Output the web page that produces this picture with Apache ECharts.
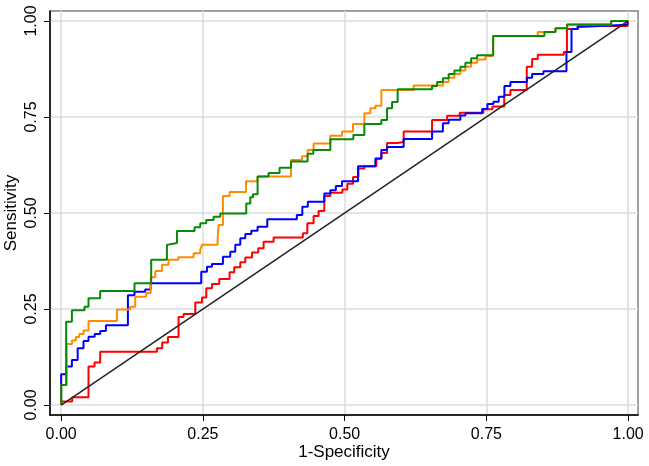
<!DOCTYPE html>
<html>
<head>
<meta charset="utf-8">
<script src="https://cdn.jsdelivr.net/npm/echarts@6/dist/echarts.min.js"></script>
<style>
html,body{margin:0;padding:0;background:#fff;}
#chart{width:649px;height:466px;}
</style>
</head>
<body>
<div id="chart"></div>
<script>
// Tick values (both axes)
const xTicks = [0, 0.25, 0.5, 0.75, 1];
const yTicks = [0, 0.25, 0.5, 0.75, 1];
const xTitle = '1-Specificity';
const yTitle = 'Sensitivity';

// ROC curves: [1-specificity, sensitivity] at each step
const greenCurve = [
  [0,0],[0,0.052],[0.0088,0.217],[0.0189,0.247],[0.0411,0.256],[0.0482,0.278],[0.0688,0.297],
  [0.1293,0.317],[0.1588,0.378],[0.1865,0.417],[0.1893,0.422],[0.2042,0.453],[0.2352,0.463],
  [0.2453,0.473],[0.2559,0.482],[0.2688,0.490],[0.2806,0.499],[0.3264,0.525],[0.3335,0.541],
  [0.3383,0.549],[0.3464,0.595],[0.3658,0.604],[0.3852,0.618],[0.4053,0.634],[0.4346,0.654],
  [0.4447,0.664],[0.4747,0.692],[0.5153,0.703],[0.5347,0.732],[0.5647,0.742],[0.5747,0.773],
  [0.5836,0.789],[0.5934,0.822],[0.6541,0.831],[0.6630,0.841],[0.6732,0.851],[0.6834,0.862],
  [0.6935,0.871],[0.7041,0.881],[0.7129,0.891],[0.7230,0.903],[0.7335,0.911],[0.7618,0.961],
  [0.8523,0.971],[0.8717,0.981],[0.8924,0.991],[0.9700,1.0],[1,1]
];
const orangeCurve = [
  [0,0],[0,0.052],[0.0097,0.159],[0.0189,0.168],[0.0259,0.177],[0.0318,0.185],[0.0394,0.194],
  [0.0482,0.219],[0.0983,0.249],[0.1218,0.256],[0.1306,0.282],[0.1500,0.292],[0.1579,0.333],
  [0.1659,0.349],[0.1777,0.365],[0.1893,0.378],[0.2065,0.385],[0.2335,0.395],[0.2453,0.404],
  [0.2483,0.417],[0.2758,0.427],[0.2776,0.469],[0.2853,0.544],[0.2970,0.555],[0.3259,0.583],
  [0.3464,0.595],[0.4053,0.638],[0.4247,0.648],[0.4346,0.664],[0.4452,0.681],[0.4747,0.701],
  [0.4953,0.712],[0.5147,0.732],[0.5347,0.760],[0.5453,0.773],[0.5541,0.779],[0.5647,0.820],
  [0.6217,0.832],[0.6735,0.841],[0.6834,0.852],[0.6935,0.862],[0.7041,0.871],[0.7129,0.881],
  [0.7230,0.891],[0.7335,0.900],[0.7482,0.909],[0.7618,0.961],[0.8405,0.971],[0.8717,0.981],
  [0.8924,0.991],[0.9700,1.0],[1,1]
];
const blueCurve = [
  [0,0],[0,0.080],[0.0088,0.100],[0.0189,0.117],[0.0291,0.148],[0.0394,0.167],[0.0482,0.178],
  [0.0591,0.185],[0.0688,0.193],[0.0789,0.208],[0.1177,0.286],[0.1293,0.295],[0.1482,0.301],
  [0.1579,0.317],[0.2470,0.347],[0.2571,0.360],[0.2659,0.367],[0.2853,0.386],[0.2982,0.399],
  [0.3070,0.417],[0.3159,0.434],[0.3247,0.445],[0.3353,0.454],[0.3464,0.464],[0.3635,0.484],
  [0.4156,0.495],[0.4253,0.516],[0.4350,0.529],[0.4641,0.551],[0.4747,0.559],[0.4844,0.570],
  [0.4953,0.583],[0.5236,0.622],[0.5541,0.642],[0.5647,0.664],[0.5747,0.672],[0.6040,0.693],
  [0.6541,0.712],[0.6732,0.734],[0.6834,0.743],[0.7041,0.754],[0.7129,0.760],[0.7424,0.771],
  [0.7517,0.784],[0.7623,0.790],[0.7717,0.803],[0.7817,0.831],[0.7923,0.841],[0.8214,0.852],
  [0.8306,0.862],[0.8505,0.869],[0.8911,0.919],[0.9000,0.979],[0.9114,0.985],[0.9202,0.990],
  [0.9988,1.0],[1,1]
];
const redCurve = [
  [0,0],[0,0.009],[0.0194,0.020],[0.0482,0.100],[0.0588,0.111],[0.0688,0.139],[0.1689,0.148],
  [0.1782,0.163],[0.1883,0.177],[0.2070,0.229],[0.2158,0.237],[0.2365,0.267],[0.2483,0.280],
  [0.2559,0.304],[0.2659,0.315],[0.2788,0.328],[0.2970,0.346],[0.3053,0.359],[0.3159,0.372],
  [0.3247,0.384],[0.3365,0.397],[0.3476,0.408],[0.3570,0.425],[0.3746,0.436],[0.4262,0.447],
  [0.4341,0.473],[0.4452,0.492],[0.4540,0.505],[0.4641,0.544],[0.4747,0.553],[0.4959,0.561],
  [0.5047,0.576],[0.5147,0.594],[0.5241,0.616],[0.5347,0.622],[0.5559,0.641],[0.5647,0.656],
  [0.5747,0.682],[0.5929,0.685],[0.6040,0.712],[0.6541,0.742],[0.6806,0.753],[0.7028,0.761],
  [0.7447,0.770],[0.7606,0.777],[0.7814,0.807],[0.7923,0.820],[0.8211,0.881],[0.8306,0.901],
  [0.8405,0.912],[0.8864,0.919],[0.8920,0.979],[0.9105,0.987],[0.9988,1.0],[1,1]
];
const referenceLine = [[0,0],[1,1]];

const chart = echarts.init(document.getElementById('chart'), null, {renderer:'canvas'});
const font = 'Liberation Sans, Arial, sans-serif';
function fmt(v){ return Number(v).toFixed(2); }

function curve(name, data, color){
  return {
    name, type:'line', step:'end', data, showSymbol:false, symbol:'none',
    lineStyle:{color, width:2}, itemStyle:{color}, animation:false, clip:false
  };
}

chart.setOption({
  animation:false,
  backgroundColor:'#ffffff',
  grid:{left:50, right:11, top:11, bottom:51, outerBoundsMode:'none', containLabel:false,
        show:true, borderColor:'#808080', borderWidth:1.5, backgroundColor:'#ffffff'},
  xAxis:{
    type:'value', min:-0.0197, max:1.0173,
    name:xTitle, nameLocation:'middle', nameGap:29, nameMoveOverlap:false,
    nameTextStyle:{fontFamily:font, fontSize:17, color:'#000'},
    axisLine:{show:true, onZero:false, lineStyle:{color:'#000', width:1.5}},
    axisTick:{show:true, customValues:xTicks, length:6, lineStyle:{color:'#000', width:1}},
    axisLabel:{customValues:xTicks, formatter:fmt, margin:12, fontFamily:font, fontSize:16, color:'#000'},
    splitLine:{show:true, lineStyle:{color:'#dcdcdc', width:1.5}}
  },
  yAxis:{
    type:'value', min:-0.026, max:1.026,
    name:yTitle, nameLocation:'middle', nameGap:30, nameRotate:90, nameMoveOverlap:false,
    nameTextStyle:{fontFamily:font, fontSize:17, color:'#000'},
    axisLine:{show:true, onZero:false, lineStyle:{color:'#000', width:1.5}},
    axisTick:{show:true, customValues:yTicks, length:6, lineStyle:{color:'#000', width:1}},
    axisLabel:{customValues:yTicks, formatter:fmt, rotate:90, margin:10, fontFamily:font, fontSize:16, color:'#000'},
    splitLine:{show:true, lineStyle:{color:'#dcdcdc', width:1.5}}
  },
  series:[
    curve('Red', redCurve, '#ff0000'),
    curve('Blue', blueCurve, '#0000ff'),
    curve('Orange', orangeCurve, '#ff8c00'),
    curve('Green', greenCurve, '#088a08'),
    {name:'Reference', type:'line', data:referenceLine, showSymbol:false, symbol:'none',
     lineStyle:{color:'#222', width:1.5}, animation:false}
  ]
});
</script>
</body>
</html>
